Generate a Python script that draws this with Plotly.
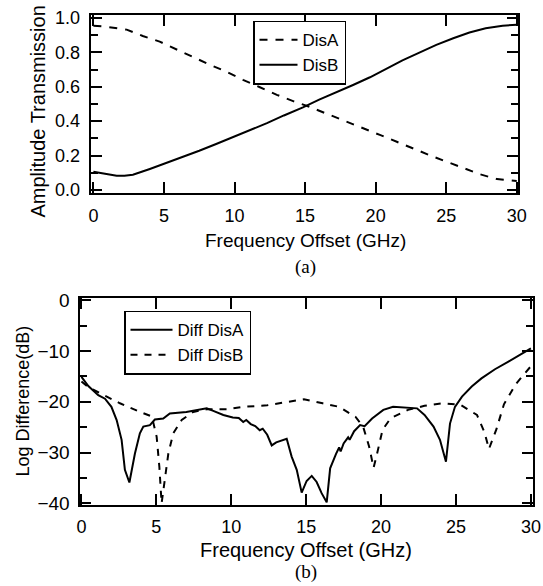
import plotly.graph_objects as go

W, H = 543, 586

# ---- data (a) ----
disA_f = [0, 0.8, 2.36, 3.5, 4.7, 5.9, 7.07, 8.25, 9.4, 10.6, 11.8, 13.0, 14.2, 15.3, 16.75,
          17.9, 19.1, 20.3, 21.5, 22.6, 23.8, 25.0, 26.2, 27.4, 28.6, 29.5, 30]
disA_v = [0.955, 0.95, 0.932, 0.895, 0.862, 0.816, 0.775, 0.728, 0.688, 0.64, 0.597, 0.553, 0.515,
          0.484, 0.436, 0.397, 0.359, 0.32, 0.28, 0.242, 0.203, 0.165, 0.126, 0.091, 0.063, 0.054, 0.052]
disB_f = [0, 0.8, 1.65, 2.2, 2.8, 4.0, 5.2, 6.4, 7.5, 8.7, 9.9, 11.1, 12.3, 13.5, 14.85, 16.0,
          17.2, 18.4, 19.6, 20.75, 21.9, 23.1, 24.3, 25.5, 26.65, 27.8, 29.0, 30]
disB_v = [0.106, 0.095, 0.083, 0.082, 0.088, 0.122, 0.157, 0.194, 0.228, 0.267, 0.306, 0.345, 0.388,
          0.433, 0.48, 0.525, 0.566, 0.61, 0.655, 0.703, 0.753, 0.798, 0.843, 0.882, 0.915, 0.94, 0.955, 0.96]

# ---- data (b) ----
diffA_f = [0, 0.46, 1.12, 1.57, 2.0, 2.35, 2.68, 2.9, 3.2, 3.57, 3.9, 4.13, 4.57, 4.9, 5.46, 5.9,
           7.0, 7.9, 8.36, 8.8, 9.47, 10.1, 10.5, 10.8, 11.0, 11.3, 11.6, 11.9, 12.1, 12.4, 12.7,
           13.0, 13.5, 13.7, 14.03, 14.37, 14.7, 15.03, 15.37, 15.7, 16.03, 16.37, 16.6, 16.8, 17.0,
           17.2, 17.3, 17.5, 17.8, 17.9, 18.2, 18.6, 18.9, 19.4, 19.93, 20.15, 20.8, 21.6, 22.4,
           22.9, 23.5, 23.93, 24.33, 24.6, 24.93, 25.4, 26.05, 26.7, 27.6, 28.5, 29.4, 30.0]
diffA_v = [-15.1, -16.9, -18.7, -19.4, -21.0, -23.6, -27.5, -33.4, -35.9, -30.2, -26.2, -24.9, -24.6,
           -23.5, -23.3, -22.3, -22.0, -21.5, -21.3, -21.8, -22.6, -23.1, -23.2, -24.0, -23.6, -24.4,
           -24.8, -25.6, -25.3, -26.5, -28.6, -28.0, -27.4, -27.3, -30.8, -33.4, -37.9, -35.6, -34.6,
           -35.8, -38.0, -39.8, -33.1, -31.5, -30.2, -29.0, -29.8, -28.2, -27.0, -27.5, -25.8, -24.6,
           -24.8, -23.3, -22.0, -21.6, -21.0, -21.2, -21.3, -22.6, -24.9, -27.5, -31.8, -24.3, -21.0,
           -19.0, -17.0, -15.4, -13.6, -12.1, -10.6, -9.5]
diffB_f = [0, 0.5, 1.23, 2.57, 3.9, 4.7, 5.02, 5.2, 5.35, 5.57, 5.8, 6.13, 6.69, 7.46, 8.36, 9.7,
           10.8, 12.4, 13.75, 14.85, 16.1, 17.2, 18.3, 18.8, 19.2, 19.5, 19.75, 20.1, 20.65, 21.8,
           22.9, 24.1, 25.3, 26.4, 26.9, 27.2, 27.7, 28.2, 29.0, 29.9, 30.0]
diffB_v = [-16.0, -17.2, -18.3, -20.3, -22.0, -22.9, -26.9, -32.8, -40.0, -35.4, -30.2, -26.2, -23.6,
           -22.0, -21.5, -21.5, -21.0, -20.7, -20.0, -19.5, -20.3, -21.0, -23.0, -24.9, -28.8, -33.0,
           -30.0, -25.5, -23.2, -21.6, -20.8, -20.3, -20.6, -22.6, -26.0, -29.3, -25.4, -20.5, -16.5,
           -13.4, -13.0]

x_title = "Frequency Offset (GHz)"
ya_title = "Amplitude Transmission"
yb_title = "Log Difference(dB)"

SANS = "Liberation Sans, Arial, Helvetica, sans-serif"
SERIF = "Liberation Serif, Times New Roman, serif"

fig = go.Figure()
fig.add_trace(go.Scatter(x=disA_f, y=disA_v, name="DisA", mode="lines",
                         line=dict(color="black", width=2, dash="8px,8px"),
                         xaxis="x", yaxis="y", legend="legend"))
fig.add_trace(go.Scatter(x=disB_f, y=disB_v, name="DisB", mode="lines",
                         line=dict(color="black", width=2),
                         xaxis="x", yaxis="y", legend="legend"))
fig.add_trace(go.Scatter(x=diffA_f, y=diffA_v, name="Diff DisA", mode="lines",
                         line=dict(color="black", width=2),
                         xaxis="x2", yaxis="y2", legend="legend2"))
fig.add_trace(go.Scatter(x=diffB_f, y=diffB_v, name="Diff DisB", mode="lines",
                         line=dict(color="black", width=2, dash="7px,7px"),
                         xaxis="x2", yaxis="y2", legend="legend2"))

def px_x(p):
    return p / W

def px_y(p):
    return 1 - p / H

ax_common = dict(showline=True, linecolor="black", linewidth=2, mirror="ticks",
                 ticks="inside", tickwidth=2, tickcolor="black", showgrid=False,
                 zeroline=False, tickfont=dict(family=SANS, size=18, color="black"),
                 automargin=False)

fig.update_layout(
    width=W, height=H,
    margin=dict(l=0, r=0, t=0, b=0),
    paper_bgcolor="white", plot_bgcolor="white",
    xaxis=dict(ax_common, domain=[px_x(90.7), px_x(518.3)], range=[-0.19, 30.11],
               tick0=0, dtick=5, ticklen=11, anchor="y", ticklabelstandoff=6),
    yaxis=dict(ax_common, domain=[px_y(192.7), px_y(15)], range=[-0.016, 1.017],
               tick0=0, dtick=0.2, tickformat=".1f", ticklen=11, anchor="x",
               ticklabelstandoff=5,
               minor=dict(ticks="inside", dtick=0.1, tick0=0, ticklen=7, tickwidth=2,
                          tickcolor="black", showgrid=False)),
    xaxis2=dict(ax_common, domain=[px_x(79.5), px_x(533.3)], range=[-0.13, 30.16],
                tick0=0, dtick=5, ticklen=11, anchor="y2", ticklabelstandoff=4),
    yaxis2=dict(ax_common, domain=[px_y(505), px_y(298)], range=[-40.33, 0.43],
                tick0=0, dtick=10, ticklen=11, anchor="x2", ticklabelstandoff=4,
                tickfont=dict(family=SANS, size=19, color="black"),
                minor=dict(ticks="inside", dtick=5, tick0=0, ticklen=7, tickwidth=2,
                           tickcolor="black", showgrid=False)),
    legend=dict(x=px_x(253), y=px_y(20.7), xanchor="left", yanchor="top",
                bordercolor="black", borderwidth=1.5, bgcolor="white",
                font=dict(family=SANS, size=17, color="black"), itemwidth=38,
                tracegroupgap=0),
    legend2=dict(x=px_x(124), y=px_y(310.7), xanchor="left", yanchor="top",
                 bordercolor="black", borderwidth=1.5, bgcolor="white",
                 font=dict(family=SANS, size=17, color="black"), itemwidth=42,
                 tracegroupgap=0),
    showlegend=True,
)

def label(text, xp, yp, size, family=SANS, angle=0):
    return dict(text=text, x=px_x(xp), y=px_y(yp), xref="paper", yref="paper",
                xanchor="center", yanchor="middle", showarrow=False, textangle=angle,
                font=dict(family=family, size=size, color="black"))

ann = [
    label(x_title, 305, 240.5, 19),
    label("(a)", 305, 267, 19, SERIF),
    label(ya_title, 37.5, 112, 20, angle=-90),
    label(x_title, 306, 550, 20),
    label("(b)", 306, 572, 19, SERIF),
    label(yb_title, 22.5, 401, 18, angle=-90),
]
fig.update_layout(annotations=ann)

fig.write_html("out.html")
